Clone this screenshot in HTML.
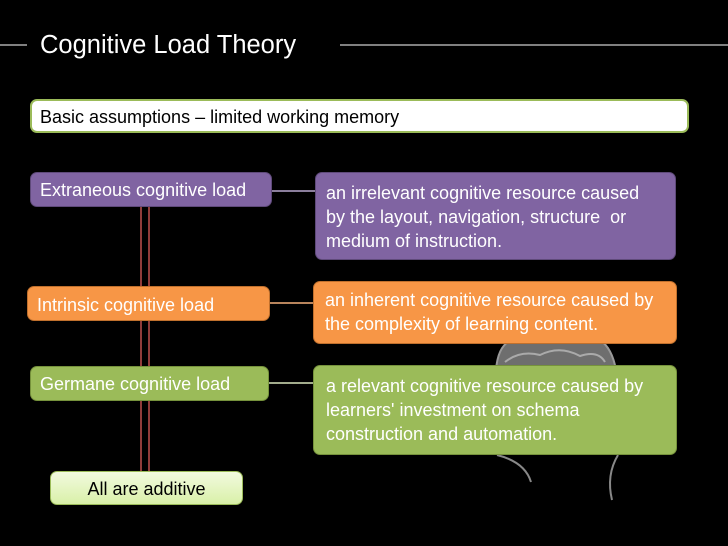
<!DOCTYPE html>
<html><head><style>
body{margin:0;width:728px;height:546px;background:#000;position:relative;overflow:hidden;font-family:"Liberation Sans",sans-serif;}
.b{position:absolute;box-sizing:border-box;border-radius:7px;color:#fff;font-size:18px;white-space:nowrap;line-height:20px;}
</style></head><body>
<svg width="728" height="546" style="position:absolute;left:0;top:0">
<line x1="0" y1="45" x2="27" y2="45" stroke="#aaa" stroke-width="1.5"/>
<line x1="340" y1="45" x2="728" y2="45" stroke="#aaa" stroke-width="1.5"/>
<line x1="141" y1="207" x2="141" y2="471" stroke="#c0504d" stroke-width="1.5"/>
<line x1="149" y1="207" x2="149" y2="471" stroke="#c0504d" stroke-width="1.5"/>
<line x1="272" y1="191" x2="315" y2="191" stroke="#b9a8d0" stroke-width="1.5"/>
<line x1="270" y1="303" x2="313" y2="303" stroke="#f5b07a" stroke-width="1.5"/>
<line x1="269" y1="383" x2="313" y2="383" stroke="#d8e6bb" stroke-width="1.5"/>
<path d="M496 370 Q498 345 512 340 L600 340 Q612 348 616 370 Z" fill="#6e6e6e" stroke="#999" stroke-width="2"/>
<path d="M505 362 Q520 350 540 355 Q560 345 580 356 Q598 350 605 362" fill="none" stroke="#aaa" stroke-width="2"/>
<path d="M497 455 Q525 462 531 482" fill="none" stroke="#888" stroke-width="2"/>
<path d="M618 455 Q606 475 612 500" fill="none" stroke="#888" stroke-width="2"/>
</svg>
<div style="position:absolute;left:40px;top:31px;color:#fff;font-size:25.5px;">Cognitive Load Theory</div>
<div class="b" style="left:30px;top:99px;width:659px;height:34px;background:#fff;border:2px solid #9bbb59;color:#000;padding:6px 8px;">Basic assumptions – limited working memory</div>
<div class="b" style="left:30px;top:172px;width:242px;height:35px;background:#8064a2;border:1px solid #5f4a7a;padding:7px 9px;">Extraneous cognitive load</div>
<div class="b" style="left:315px;top:172px;width:361px;height:88px;background:#8064a2;border:1px solid #5f4a7a;padding:8px 10px;line-height:24px;">an irrelevant cognitive resource caused<br>by the layout, navigation, structure&nbsp; or<br>medium of instruction.</div>
<div class="b" style="left:27px;top:286px;width:243px;height:35px;background:#f79646;border:1px solid #c0702d;padding:8px 9px;">Intrinsic cognitive load</div>
<div class="b" style="left:313px;top:281px;width:364px;height:63px;background:#f79646;border:1px solid #c0702d;padding:6px 11px;line-height:24px;">an inherent cognitive resource caused by<br>the complexity of learning content.</div>
<div class="b" style="left:30px;top:366px;width:239px;height:35px;background:#9bbb59;border:1px solid #76923c;padding:7px 9px;">Germane cognitive load</div>
<div class="b" style="left:313px;top:365px;width:364px;height:90px;background:#9bbb59;border:1px solid #76923c;padding:8px 12px;line-height:24px;">a relevant cognitive resource caused by<br>learners' investment on schema<br>construction and automation.</div>
<div class="b" style="left:50px;top:471px;width:193px;height:34px;background:linear-gradient(#f2fadf,#d9f0a8);border:1px solid #9bbb59;color:#000;text-align:center;padding-top:7px;">All are additive</div>
</body></html>
